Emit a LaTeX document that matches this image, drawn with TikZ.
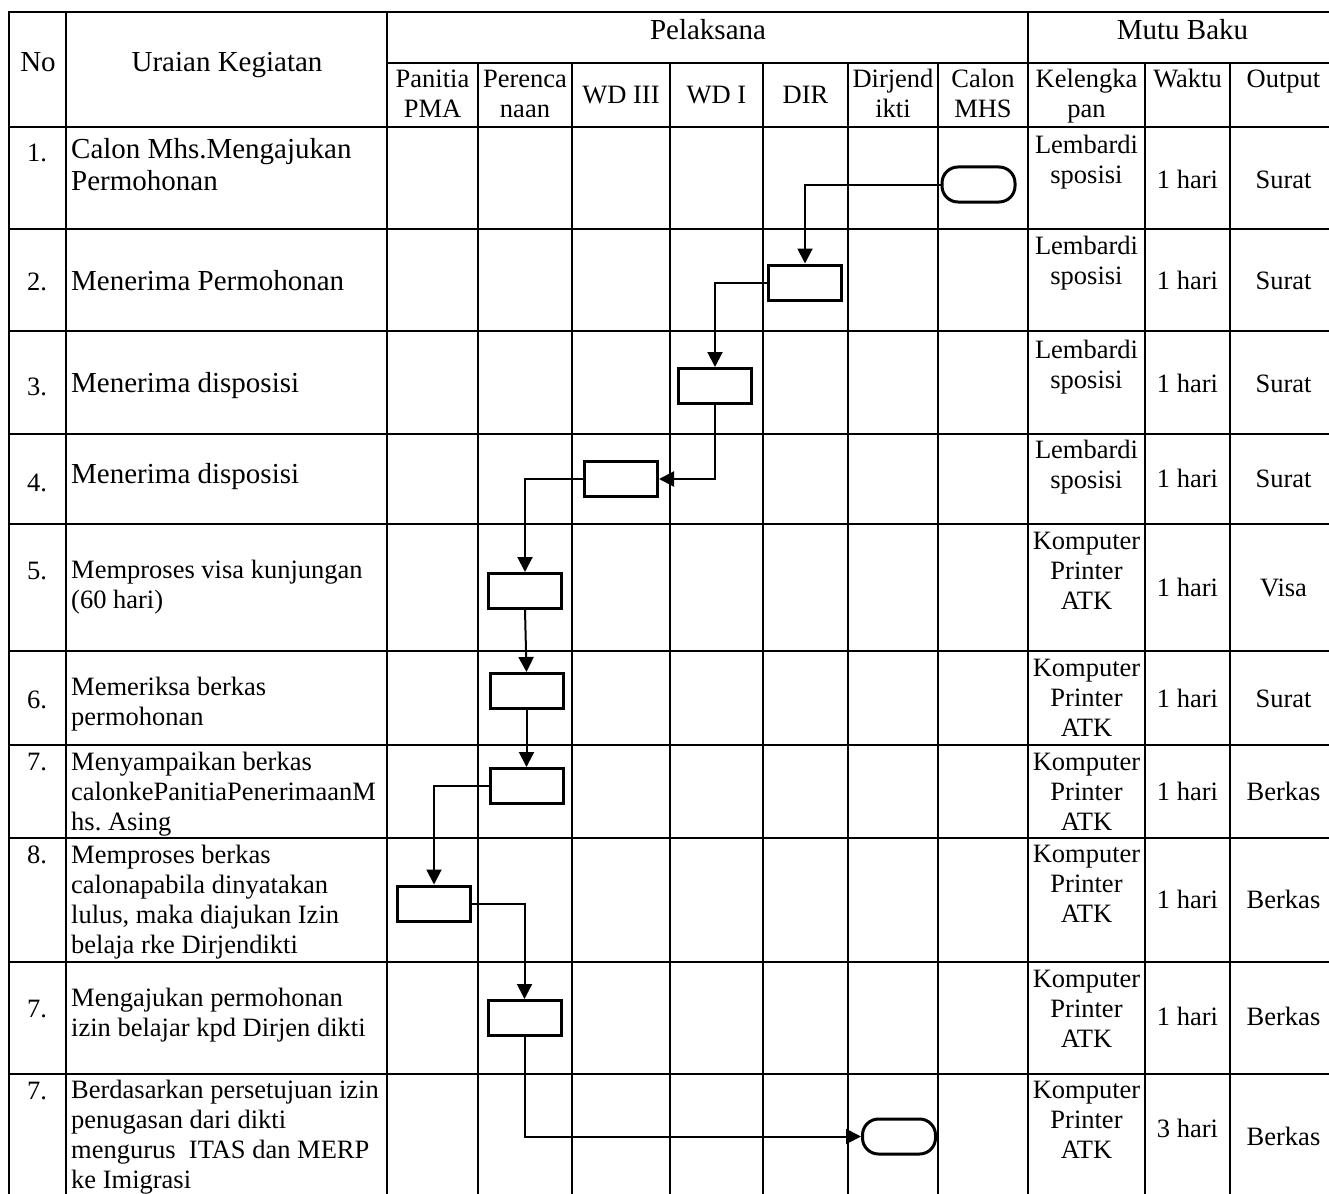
\documentclass[tikz,border=0pt]{standalone}
\usepackage{fontspec}
\setmainfont{Liberation Serif}
\usetikzlibrary{arrows.meta}

\begin{document}
\begin{tikzpicture}[x=1pt,y=-1pt,
    >={Triangle[length=15pt,width=15pt]},
    grid/.style={line width=1.6pt,line cap=rect},
    box/.style={draw,fill=white,line width=3pt,minimum width=73pt,minimum height=35pt,inner sep=0pt},
    term/.style={box,rounded corners=16pt},
    flow/.style={->,line width=2pt},
    bigtxt/.style={font=\fontsize{29}{32}\selectfont,inner sep=0pt},
    smalltxt/.style={font=\fontsize{26.5}{30}\selectfont,inner sep=0pt},
    desc/.style={anchor=base west,align=left},
    mid/.style={anchor=base,align=center}]
\useasboundingbox (0,0) rectangle (1329,1193);

% table lines
\foreach \x in {9,66,387,1028} \draw[grid] (\x,12) -- (\x,1193);
\foreach \x in {478,572,670,763,848,938,1145,1230} \draw[grid] (\x,63) -- (\x,1193);
\draw[grid] (9,12) -- (1329,12);
\draw[grid] (387,63) -- (1329,63);
\foreach \y in {127,229,331,434,524,651,745,838,962,1074} \draw[grid] (9,\y) -- (1329,\y);

% header (base = last line)
\node[bigtxt,mid] (hno) at (38,72) {No};
\node[bigtxt,mid] (hura) at (227,72) {Uraian Kegiatan};
\node[bigtxt,mid] (hpel) at (708,39.5) {Pelaksana};
\node[bigtxt,mid] (hmutu) at (1182.5,39.5) {Mutu Baku};
\node[smalltxt,mid] (hpan) at (432.5,118) {Panitia\\PMA};
\node[smalltxt,mid] (hper) at (525,118) {Perenca\\naan};
\node[smalltxt,mid] (hwdtiga) at (621,104) {WD III};
\node[smalltxt,mid] (hwdsatu) at (716.5,104) {WD I};
\node[smalltxt,mid] (hdir) at (805.5,104) {DIR};
\node[smalltxt,mid] (hdirj) at (893,118) {Dirjend\\ikti};
\node[smalltxt,mid] (hcal) at (983,118) {Calon\\MHS};
\node[smalltxt,mid] (hkel) at (1086.5,118) {Kelengka\\pan};
\node[smalltxt,mid] (hwak) at (1187.5,88) {Waktu};
\node[smalltxt,mid] (hout) at (1283.5,88) {Output};

% nomor
\node[smalltxt,mid] (n1) at (37,161) {1.};
\node[smalltxt,mid] (n2) at (37,290) {2.};
\node[smalltxt,mid] (n3) at (37,395) {3.};
\node[smalltxt,mid] (n4) at (37,491) {4.};
\node[smalltxt,mid] (n5) at (37,579) {5.};
\node[smalltxt,mid] (n6) at (37,708) {6.};
\node[smalltxt,mid] (n7) at (37,770) {7.};
\node[smalltxt,mid] (n8) at (37,863) {8.};
\node[smalltxt,mid] (n9) at (37,1017) {7.};
\node[smalltxt,mid] (n10) at (37,1099) {7.};

% uraian kegiatan
\node[bigtxt,desc] (d1) at (71,190) {Calon Mhs.Mengajukan\\Permohonan};
\node[bigtxt,desc] (d2) at (71,290) {Menerima Permohonan};
\node[bigtxt,desc] (d3) at (71,392) {Menerima disposisi};
\node[bigtxt,desc] (d4) at (71,483) {Menerima disposisi};
\node[smalltxt,desc] (d5) at (71,608.5) {Memproses visa kunjungan\\(60 hari)};
\node[smalltxt,desc] (d6) at (71,725.5) {Memeriksa berkas\\permohonan};
\node[smalltxt,desc] (d7) at (71,830) {Menyampaikan berkas\\calonkePanitiaPenerimaanM\\hs.\ Asing};
\node[smalltxt,desc] (d8) at (71,953) {Memproses berkas\\calonapabila dinyatakan\\lulus, maka diajukan Izin\\belaja rke Dirjendikti};
\node[smalltxt,desc] (d9) at (71,1036) {Mengajukan permohonan\\izin belajar kpd Dirjen dikti};
\node[smalltxt,desc] (d10) at (71,1188.5) {Berdasarkan persetujuan izin\\penugasan dari dikti\\mengurus\ \ ITAS dan MERP\\ke Imigrasi};

% mutu baku
\node[smalltxt,mid] (k1) at (1086.5,183) {Lembardi\\sposisi};
\node[smalltxt,mid] (w1) at (1187.5,188) {1 hari};
\node[smalltxt,mid] (o1) at (1283.5,188) {Surat};
\node[smalltxt,mid] (k2) at (1086.5,284) {Lembardi\\sposisi};
\node[smalltxt,mid] (w2) at (1187.5,289) {1 hari};
\node[smalltxt,mid] (o2) at (1283.5,289) {Surat};
\node[smalltxt,mid] (k3) at (1086.5,388) {Lembardi\\sposisi};
\node[smalltxt,mid] (w3) at (1187.5,392) {1 hari};
\node[smalltxt,mid] (o3) at (1283.5,392) {Surat};
\node[smalltxt,mid] (k4) at (1086.5,488) {Lembardi\\sposisi};
\node[smalltxt,mid] (w4) at (1187.5,487) {1 hari};
\node[smalltxt,mid] (o4) at (1283.5,487) {Surat};
\node[smalltxt,mid] (k5) at (1086.5,609) {Komputer\\Printer\\ATK};
\node[smalltxt,mid] (w5) at (1187.5,596) {1 hari};
\node[smalltxt,mid] (o5) at (1283.5,596) {Visa};
\node[smalltxt,mid] (k6) at (1086.5,736) {Komputer\\Printer\\ATK};
\node[smalltxt,mid] (w6) at (1187.5,707) {1 hari};
\node[smalltxt,mid] (o6) at (1283.5,707) {Surat};
\node[smalltxt,mid] (k7) at (1086.5,830) {Komputer\\Printer\\ATK};
\node[smalltxt,mid] (w7) at (1187.5,800) {1 hari};
\node[smalltxt,mid] (o7) at (1283.5,800) {Berkas};
\node[smalltxt,mid] (k8) at (1086.5,922) {Komputer\\Printer\\ATK};
\node[smalltxt,mid] (w8) at (1187.5,908) {1 hari};
\node[smalltxt,mid] (o8) at (1283.5,908) {Berkas};
\node[smalltxt,mid] (k9) at (1086.5,1047) {Komputer\\Printer\\ATK};
\node[smalltxt,mid] (w9) at (1187.5,1025) {1 hari};
\node[smalltxt,mid] (o9) at (1283.5,1025) {Berkas};
\node[smalltxt,mid] (k10) at (1086.5,1158) {Komputer\\Printer\\ATK};
\node[smalltxt,mid] (w10) at (1187.5,1137) {3 hari};
\node[smalltxt,mid] (o10) at (1283.5,1145) {Berkas};

% alur
\node[term] (t1) at (978.5,184.5) {};
\node[box] (b2) at (805,282.5) {};
\node[box] (b3) at (715,386) {};
\node[box] (b4) at (621,479) {};
\node[box] (b5) at (525,591) {};
\node[box] (b6) at (526.5,691) {};
\node[box] (b7) at (526.5,786) {};
\node[box] (b8) at (434,903.5) {};
\node[box] (b9) at (524.5,1018) {};
\node[term] (t10) at (899,1136.5) {};

\draw[flow] (t1.west) -| (b2.north);
\draw[flow] (b2.west) -| (b3.north);
\draw[flow] (b3.south) |- (b4.east);
\draw[flow] (b4.west) -| (b5.north);
\draw[flow] (b5.south) -- (b6.north);
\draw[flow] (b6.south) -- (b7.north);
\draw[flow] (b7.west) -| (b8.north);
\draw[flow] (b8.east) -| (b9.north);
\draw[flow] (b9.south) |- (t10.west);
\end{tikzpicture}
\end{document}
